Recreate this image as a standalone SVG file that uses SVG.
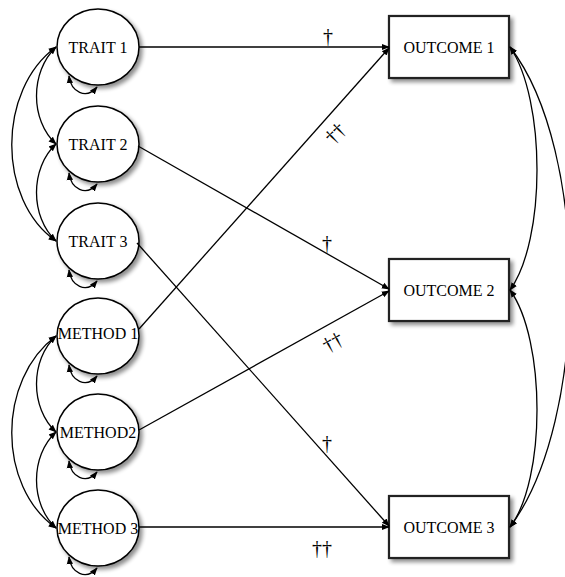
<svg xmlns="http://www.w3.org/2000/svg" width="565" height="577" viewBox="0 0 565 577">
<style>
.n{fill:#fff;stroke:#000;stroke-width:1.5}
.r{fill:#fff;stroke:#222;stroke-width:2.2}
.t{font-family:"Liberation Serif","Times New Roman",serif;font-size:16px;text-anchor:middle;fill:#000}
.d{font-family:"Liberation Serif","Times New Roman",serif;font-size:20px;text-anchor:middle;fill:#000}
.c{fill:none;stroke:#000;stroke-width:1.3;marker-end:url(#ah)}
.b{fill:none;stroke:#000;stroke-width:1.3;marker-start:url(#ah);marker-end:url(#ah)}
</style>
<defs>
<marker id="ah" viewBox="0 0 10 10" refX="9" refY="5" markerWidth="8" markerHeight="8" markerUnits="userSpaceOnUse" orient="auto-start-reverse">
<path d="M0,1 L10,5 L0,9 z" fill="#000"/>
</marker>
<filter id="sh" x="-20%" y="-20%" width="150%" height="150%">
<feGaussianBlur in="SourceAlpha" stdDeviation="2"/>
<feOffset dx="3" dy="3" result="o"/>
<feComponentTransfer><feFuncA type="linear" slope="0.45"/></feComponentTransfer>
<feMerge><feMergeNode/><feMergeNode in="SourceGraphic"/></feMerge>
</filter>
</defs>
<rect width="565" height="577" fill="#fff"/>
<g id="trait1"><ellipse class="n" cx="98" cy="47" rx="41" ry="38" filter="url(#sh)"/><text class="t" x="98" y="53">TRAIT 1</text></g>
<g id="trait2"><ellipse class="n" cx="98" cy="144" rx="41" ry="38" filter="url(#sh)"/><text class="t" x="98" y="150">TRAIT 2</text></g>
<g id="trait3"><ellipse class="n" cx="98" cy="241" rx="41" ry="38" filter="url(#sh)"/><text class="t" x="98" y="247">TRAIT 3</text></g>
<g id="method1"><ellipse class="n" cx="98" cy="336" rx="41" ry="38" filter="url(#sh)"/><text class="t" x="98" y="339">METHOD 1</text></g>
<g id="method2"><ellipse class="n" cx="98" cy="432" rx="41" ry="38" filter="url(#sh)"/><text class="t" x="98" y="438">METHOD2</text></g>
<g id="method3"><ellipse class="n" cx="98" cy="528" rx="41" ry="38" filter="url(#sh)"/><text class="t" x="98" y="534">METHOD 3</text></g>
<g id="outcome1"><rect class="r" x="389" y="16" width="120" height="62" filter="url(#sh)"/><text class="t" x="449" y="53">OUTCOME 1</text></g>
<g id="outcome2"><rect class="r" x="389" y="259" width="120" height="62" filter="url(#sh)"/><text class="t" x="449" y="296">OUTCOME 2</text></g>
<g id="outcome3"><rect class="r" x="389" y="496" width="120" height="62" filter="url(#sh)"/><text class="t" x="449" y="533">OUTCOME 3</text></g>
<g id="connectors">
<path class="c" d="M139,47 L389,47"/>
<path class="c" d="M139,329 L389,48"/>
<path class="c" d="M138,146 L389,289"/>
<path class="c" d="M139,430 L389,291"/>
<path class="c" d="M137,243 L389,526"/>
<path class="c" d="M139,527 L389,527"/>
<path class="b" d="M69,76 C71,92 86,100 97,87"/>
<path class="b" d="M69,173 C71,189 86,197 97,184"/>
<path class="b" d="M69,270 C71,286 86,294 97,281"/>
<path class="b" d="M69,365 C71,381 86,389 97,376"/>
<path class="b" d="M69,461 C71,477 86,485 97,472"/>
<path class="b" d="M69,557 C71,573 86,581 97,568"/>
<path class="b" d="M56,47 C30,72 30,120 56,144"/>
<path class="b" d="M56,144 C30,168 30,217 56,241"/>
<path class="b" d="M56,47 C-3,90 -3,200 56,241"/>
<path class="b" d="M56,336 C30,360 30,408 56,432"/>
<path class="b" d="M56,432 C30,456 30,504 56,528"/>
<path class="b" d="M56,336 C-3,380 -3,486 56,528"/>
<path class="b" d="M510,47 C546,100 546,240 510,290"/>
<path class="b" d="M510,290 C546,340 546,480 510,527"/>
<path class="b" d="M510,47 C590,150 590,420 510,527"/>
<text class="d" x="328" y="43">†</text>
<text class="d" x="327" y="250">†</text>
<text class="d" x="327" y="450">†</text>
<text class="d" x="322" y="555">††</text>
<text class="d" transform="translate(340,138) rotate(-45)">††</text>
<text class="d" transform="translate(336,348) rotate(-29)">††</text>
</g>
</svg>
